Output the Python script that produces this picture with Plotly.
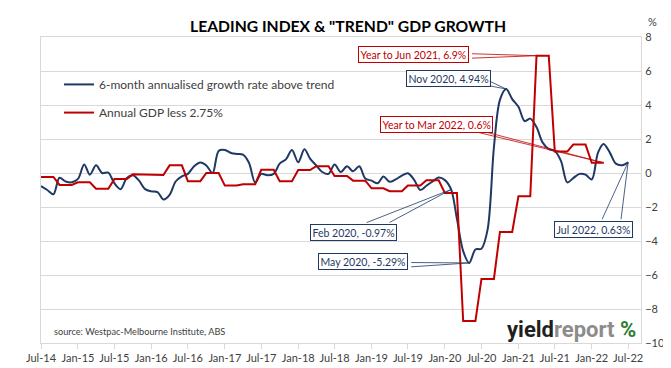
import pandas as pd
import plotly.graph_objects as go

# ---------------- data ----------------
months = pd.date_range("2014-07-01", "2022-07-01", freq="MS")

leading_index = [
    -0.77, -1.00, -1.25, -0.28, -0.50, -0.55, -0.35, 0.50, -0.10, 0.45,
    0.00, 0.02, -0.60, -0.95, -0.30, -0.13, -0.45, -0.95, -1.08, -1.12,
    -1.56, -1.28, -0.50, -0.20, -0.05, 0.40, 0.62, 0.44, 0.00, 1.30,
    1.35, 1.18, 1.12, 1.08, 0.60, -0.57, -0.05, -0.13, -0.05, 0.55,
    0.80, 1.35, 0.63, 1.39, 0.85, 0.44, 0.06, -0.05, 0.50, 0.06,
    0.40, 0.10, 0.40, -0.33, -0.45, -0.60, -0.20, -0.52, -0.38, -0.15,
    -0.02, -0.40, -1.00, -0.75, -0.50, -0.27, -0.42, -0.97, -2.70, -4.60,
    -5.29, -4.50, -4.45, -3.30, 1.50, 4.30, 4.94, 4.35, 3.90, 3.05,
    3.20, 2.70, 1.80, 1.40, 1.29, 0.70, -0.55, -0.30, -0.05, -0.10,
    -0.38, 1.20, 1.71, 1.20, 0.55, 0.46, 0.63,
]

gdp_less_trend = [
    -0.23, -0.23, -0.23, -0.70, -0.70, -0.70, -0.55, -0.55, -0.55,
    -0.93, -0.93, -0.93, -0.36, -0.36, -0.36, -0.08, -0.08, -0.08,
    -0.12, -0.12, -0.12, 0.45, 0.45, 0.45, -0.48, -0.48, -0.48,
    0.00, 0.00, 0.00, -0.74, -0.74, -0.74, -0.66, -0.66, -0.66,
    0.19, 0.19, 0.19, -0.48, -0.48, -0.48, 0.17, 0.17, 0.17,
    0.40, 0.40, 0.40, -0.18, -0.18, -0.18, -0.45, -0.45, -0.45,
    -0.90, -0.90, -0.90, -1.07, -1.07, -1.07, -0.73, -0.73, -0.73,
    -0.43, -0.43, -0.43, -1.18, -1.18, -1.18, -8.71, -8.71, -8.71,
    -6.23, -6.23, -6.23, -3.47, -3.47, -3.47, -1.37, -1.37, -1.37,
    6.90, 6.90, 6.90, 1.26, 1.26, 1.26, 1.67, 1.67, 1.67,
    0.60, 0.60, 0.60,
]
gdp_months = months[: len(gdp_less_trend)]

tick_labels = ["Jul-14", "Jan-15", "Jul-15", "Jan-16", "Jul-16", "Jan-17",
               "Jul-17", "Jan-18", "Jul-18", "Jan-19", "Jul-19", "Jan-20",
               "Jul-20", "Jan-21", "Jul-21", "Jan-22", "Jul-22"]
tick_dates = pd.to_datetime(tick_labels, format="%b-%y")

BLUE = "#1F3864"
RED = "#C00000"
GRID = "#D9D9D9"
TXT = "#404040"
FONT = "Lato"

fig = go.Figure()
fig.add_trace(go.Scatter(
    x=months, y=leading_index, mode="lines",
    name="6-month annualised growth rate above trend",
    line=dict(color=BLUE, width=2, shape="spline", smoothing=0.9),
    legend="legend",
))
fig.add_trace(go.Scatter(
    x=gdp_months, y=gdp_less_trend, mode="lines",
    name="Annual GDP less 2.75%",
    line=dict(color=RED, width=2),
    legend="legend2",
))

# ---------------- callouts ----------------
annotations = []


def callout(xv, yv, text, color, dx, dy, tails):
    # box (offset from the data point in pixels: dx right, dy down)
    annotations.append(dict(
        x=xv, y=yv, xref="x", yref="y", text=text, showarrow=False,
        xshift=dx, yshift=-dy, font=dict(family=FONT, size=10.5, color=color),
        bgcolor="white", bordercolor=color, borderwidth=1, borderpad=1.5,
    ))
    for tx, ty in tails:
        annotations.append(dict(
            x=xv, y=yv, xref="x", yref="y", text="", showarrow=True,
            arrowhead=0, arrowwidth=0.8, arrowcolor=color, standoff=0,
            ax=tx, ay=ty,
        ))


i_nov20 = 76
i_feb20 = 67
i_may20 = 70
i_jul22 = 96
i_jun21 = 81
i_mar22 = 92

callout(months[i_jun21], gdp_less_trend[i_jun21],
        f"Year to Jun 2021, {gdp_less_trend[i_jun21]:.1f}%", RED,
        -123, -1, [(-66, -2), (-66, 2.5)])
callout(months[i_nov20], leading_index[i_nov20],
        f"Nov 2020, {leading_index[i_nov20]:.2f}%", BLUE,
        -58, -10.6, [(-18, -3.5), (-18, -8.5)])
callout(months[i_mar22], gdp_less_trend[i_mar22],
        f"Year to Mar 2022, {gdp_less_trend[i_mar22]:.1f}%", RED,
        -167, -38.8, [(-127, -30.8), (-118, -30.8)])
callout(months[i_feb20], leading_index[i_feb20],
        f"Feb 2020, {leading_index[i_feb20]:.2f}%", BLUE,
        -98, 42.7, [(-86, 33.7), (-63, 33.7)])
callout(months[i_may20], leading_index[i_may20],
        f"May 2020, {leading_index[i_may20]:.2f}%", BLUE,
        -106, -1.7, [(-59.5, -0.4), (-59.5, 4)])
callout(months[i_jul22], leading_index[i_jul22],
        f"Jul 2022, {leading_index[i_jul22]:.2f}%", BLUE,
        -35, 67, [(-26.7, 58.4), (-7.3, 58.4)])

# ---------------- text ----------------
annotations += [
    dict(text="<b>LEADING INDEX & \"TREND\" GDP GROWTH</b>", xref="paper",
         yref="paper", x=0.511, y=1.035, showarrow=False, xanchor="center",
         yanchor="middle", font=dict(family=FONT, size=15.7, color="black")),
    dict(text="%", xref="paper", yref="paper", x=1.0075, y=1.05,
         showarrow=False, xanchor="left", yanchor="middle",
         font=dict(family=FONT, size=11, color=TXT)),
    dict(text="source: Westpac-Melbourne Institute, ABS", xref="paper",
         yref="paper", x=0.018, y=0.038, showarrow=False, xanchor="left",
         yanchor="middle", font=dict(family=FONT, size=9.2, color=TXT)),
    dict(text="<b><span style='color:#231F20'>yield</span>"
              "<span style='color:#8C8C8C'>report</span> "
              "<span style='color:#2E7D32'>%</span></b>",
         xref="paper", yref="paper", x=0.995, y=0.045, showarrow=False,
         xanchor="right", yanchor="middle",
         font=dict(family="Roboto", size=22)),
]

fig.update_layout(
    width=671, height=368,
    margin=dict(l=33, r=38, t=29, b=23),
    paper_bgcolor="white", plot_bgcolor="white",
    font=dict(family=FONT, size=11, color=TXT),
    showlegend=True,
    legend=dict(x=0.03, y=0.845, xanchor="left", yanchor="middle",
                bgcolor="rgba(0,0,0,0)", font=dict(family=FONT, size=12, color=TXT)),
    legend2=dict(x=0.03, y=0.753, xanchor="left", yanchor="middle",
                 bgcolor="rgba(0,0,0,0)", font=dict(family=FONT, size=12, color=TXT)),
    annotations=annotations,
    xaxis=dict(
        type="date", range=["2014-07-01", "2022-09-03"],
        tickvals=tick_dates, ticktext=tick_labels,
        showgrid=False, zeroline=False,
        showline=True, linecolor=GRID, linewidth=1, mirror=True,
        ticks="outside", ticklen=5, tickcolor=GRID,
        tickfont=dict(family=FONT, size=11, color=TXT),
    ),
    yaxis=dict(
        side="right", range=[-10, 8], dtick=2, tick0=0,
        showgrid=True, gridcolor=GRID, gridwidth=1, zeroline=False,
        showline=True, linecolor=GRID, linewidth=1, mirror=True,
        ticks="outside", ticklen=1, tickcolor="rgba(0,0,0,0)",
        tickfont=dict(family=FONT, size=11, color=TXT),
    ),
)

fig.write_html("out.html")
